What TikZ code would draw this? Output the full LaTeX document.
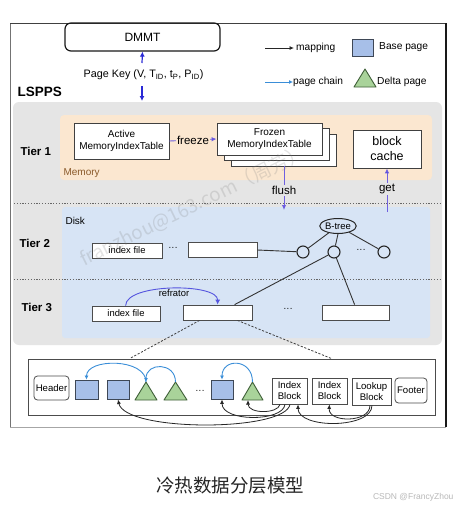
\documentclass[tikz,border=0pt]{standalone}
\usepackage{fontspec}
\setmainfont{Liberation Sans}
\newfontfamily\cjk{Noto Sans CJK SC}
\usetikzlibrary{arrows.meta,calc,shapes.geometric}
\definecolor{regiongray}{HTML}{E5E5E5}
\definecolor{memorange}{HTML}{FBE7D0}
\definecolor{diskblue}{HTML}{D7E4F5}
\definecolor{basefill}{HTML}{A7BFE8}
\definecolor{baseedge}{HTML}{3E4756}
\definecolor{trifill}{HTML}{A9D39A}
\definecolor{triedge}{HTML}{3F5F38}
\definecolor{keyblue}{HTML}{2A2AD6}
\definecolor{flowpurple}{HTML}{7060E0}
\definecolor{chainblue}{HTML}{3A8ED8}
\definecolor{membrown}{HTML}{8A5A2A}
\tikzset{
  fs/.style={font=\fontsize{#1}{#1}\selectfont},
  fsl/.style 2 args={font=\fontsize{#1}{#2}\selectfont},
  tierlabel/.style={anchor=west, font=\bfseries\fontsize{11.5}{12}\selectfont},
  membox/.style={draw=black!75, fill=white, line width=0.8, inner sep=0, align=center, fsl={10}{12}},
  filebox/.style={draw=black!70, fill=white, line width=0.8, inner sep=0, minimum height=15, fs=9.4},
  basepage/.style={draw=baseedge, fill=basefill, line width=0.9, inner sep=0, minimum height=19},
  blockbox/.style={draw=black!70, fill=white, line width=0.8, inner sep=0, align=center, fsl={9.6}{11}},
  tri/.style={draw=triedge, fill=trifill, line width=0.9, line join=round},
  tnode/.style={circle, draw=black!85, line width=1.1, minimum size=12, inner sep=0},
  treeline/.style={draw=black!80, line width=0.9},
  keyarrow/.style={draw=keyblue, line width=1.2, -{Latex[length=5pt,width=5pt]}},
  flowarrow/.style={draw=flowpurple, line width=0.9, -{Latex[length=5pt,width=4.5pt,fill=keyblue]}},
  flowlabel/.style={inner sep=1, fs=11.5},
  chain/.style={draw=chainblue, line width=0.9, -{Latex[length=4pt,width=4pt]}},
  mapping/.style={draw=black!85, line width=0.8, -{Latex[length=4.5pt,width=4pt]}},
  legendtext/.style={anchor=west, inner sep=1, fs=10.2},
  dotsep/.style={draw=black!60, line width=0.9, dash pattern=on 1.2pt off 1.6pt},
  fanout/.style={draw=black!75, line width=0.8, dash pattern=on 2.2pt off 1.6pt},
}
\begin{document}
\begin{tikzpicture}[x=1pt,y=-1pt, fs=9.5]
\useasboundingbox (0,0) rectangle (460,509);
\fill[white] (0,0) rectangle (460,509);

% outer frame
\draw[black!35, line width=0.4] (10,427) -- (446,427);
\draw[black!55, line width=0.7] (10,427) -- (10,23);
\draw[black!75, line width=0.8] (10,23) -- (446,23);
\draw[black!90, line width=1.7] (446,23) -- (446,427);

% regions
\fill[regiongray, rounded corners=6] (13,102) rectangle (442,345);
\fill[memorange, rounded corners=4] (60,115) rectangle (432,180);
\fill[diskblue, rounded corners=3] (62,207) rectangle (430,338);
\draw[dotsep] (14,203) -- (441,203);
\draw[dotsep] (14,279) -- (441,279);

% top part
\node[draw=black!90, rounded corners=6, line width=1.2, minimum width=155, minimum height=28, inner sep=0, fs=12] (dmmt) at (142.5,37) {DMMT};
\node[fs=10.8] (pk) at (143.5,75) {Page Key (V, T\textsubscript{ID}, t\textsubscript{P}, P\textsubscript{ID})};
\coordinate (pktop) at (142,63);
\coordinate (pkb1) at (142,86);
\coordinate (pkb2) at (142,101);
\draw[keyarrow] (pktop) -- (dmmt.south);
\draw[keyarrow] (pkb1) -- (pkb2);

\node[anchor=west, font=\bfseries\fontsize{13.5}{14}\selectfont] (lspps) at (14,92) {LSPPS};

% legend
\coordinate (lm1) at (265,48);
\coordinate (lm2) at (294,48);
\draw[mapping] (lm1) -- (lm2);
\node[legendtext] (lmt) at (295,48) {mapping};
\node[basepage, minimum width=21, minimum height=17] (lbp) at (362.5,47.5) {};
\node[legendtext] (lbpt) at (378,47.5) {Base page};
\coordinate (lc1) at (265,82);
\coordinate (lc2) at (293,82);
\draw[chain] (lc1) -- (lc2);
\node[legendtext] (lct) at (292,82) {page chain};
\draw[tri] (354,87) -- (365,69) -- (376,87) -- cycle;
\node[legendtext] (ldt) at (376,82) {Delta page};

% Tier 1
\node[tierlabel] (t1lab) at (17,151) {Tier 1};
\node[anchor=west, text=membrown, fs=10] (memlab) at (60,173) {Memory};
\node[membox, minimum width=95, minimum height=36] (act) at (121.5,141) {Active\\MemoryIndexTable};
\node[membox, minimum width=105, minimum height=32] (fz3) at (283.5,150) {};
\node[membox, minimum width=105, minimum height=32] (fz2) at (276.5,144.5) {};
\node[membox, minimum width=105, minimum height=32] (fz1) at (269.5,139) {Frozen\\MemoryIndexTable};
\draw[flowarrow] (act.east) -- node[flowlabel, fill=memorange] (frz) {freeze} (fz1.west);
\node[membox, minimum width=68, minimum height=38, fsl={12.5}{15}] (bc) at (387,149) {block\\cache};
\coordinate (flushend) at (284,210);
\draw[flowarrow] (fz3.south -| flushend) -- node[flowlabel, fill=regiongray, pos=0.55] (flt) {flush} (flushend);
\coordinate (getstart) at (387,212);
\draw[flowarrow] (getstart) -- node[flowlabel, fill=regiongray, pos=0.52] (gtt) {get} (bc.south);

% Tier 2
\node[tierlabel] (t2lab) at (16,243) {Tier 2};
\node[anchor=west, fs=10] (disklab) at (62,221) {Disk};
\node[filebox, minimum width=70] (i2) at (127,250.5) {index file};
\node[fs=9.5] (dots2) at (173,249) {···};
\node[filebox, minimum width=69] (b22) at (222.5,250) {};
\node[ellipse, draw=black!85, line width=1, minimum width=36, minimum height=15, inner sep=0, fs=9.5] (bt) at (338,226) {B-tree};
\node[tnode] (c1) at (303,252) {};
\node[tnode] (c2) at (334,252) {};
\node[tnode] (c3) at (384,252) {};
\node[fs=9.5] (dotsc) at (361,251) {···};
\draw[treeline] (bt) -- (c1);
\draw[treeline] (bt.south) -- (c2);
\draw[treeline] (bt) -- (c3);
\draw[treeline] (b22.east) -- (c1);

% Tier 3
\node[tierlabel] (t3lab) at (18,307) {Tier 3};
\node[filebox, minimum width=68] (i3) at (126,313.5) {index file};
\node[filebox, minimum width=69] (b32) at (217.5,312.5) {};
\node[fs=9.5] (dots3) at (288,310) {···};
\node[filebox, minimum width=67] (b33) at (355.5,312.5) {};
\draw[treeline] (c2) -- ($(b32.north west)+(52,0)$);
\draw[treeline] (c2) -- ($(b33.north west)+(33,0)$);
\draw[draw=keyblue!80, line width=0.9, -{Latex[length=5pt,width=5pt]}] ($(i3.north west)+(34,0)$) .. controls (126,283) and (218,283) .. ($(b32.north west)+(35,0)$);
\node[fs=9.4] (reflab) at (174,293) {refrator};

% fan-out to file layout
\node[draw=black!70, line width=0.8, minimum width=407, minimum height=56, inner sep=0] (file) at (231.5,387) {};
\draw[fanout] ($(b32.south west)+(17,0)$) -- ($(file.north west)+(102,0)$);
\draw[fanout] ($(b32.south east)+(-15,0)$) -- ($(file.north west)+(304,0)$);

% file content
\node[blockbox, rounded corners=3.5, minimum width=35, minimum height=24] (hdr) at (51.5,388) {Header};
\node[basepage, minimum width=23] (bp1) at (86.5,389.5) {};
\node[basepage, minimum width=22] (bp2) at (118,389.5) {};
\node[basepage, minimum width=22] (bp3) at (222,389.5) {};
\coordinate (t1top) at (146,382);
\coordinate (t2top) at (175.5,382);
\coordinate (t3top) at (252.5,382);
\coordinate (t3bot) at (248,400);
\draw[tri] (135,400) -- (t1top) -- (157,400) -- cycle;
\draw[tri] (164,400) -- (t2top) -- (187,400) -- cycle;
\draw[tri] (242,400) -- (t3top) -- (263,400) -- cycle;
\node[fs=9.5] (dotsf) at (200,392) {···};
\node[blockbox, minimum width=35, minimum height=26] (ib1) at (289.5,391) {Index\\Block};
\node[blockbox, minimum width=35, minimum height=26] (ib2) at (329.5,391) {Index\\Block};
\node[blockbox, minimum width=39, minimum height=27] (lk) at (371.5,391.5) {Lookup\\Block};
\node[blockbox, rounded corners=3.5, minimum width=32, minimum height=25] (ftr) at (411,390.5) {Footer};

% page chains
\draw[chain] (t1top) .. controls (146,358) and (86.5,358) .. (bp1.north);
\draw[chain] (t2top) .. controls (175.5,362) and (146,362) .. (t1top);
\draw[chain] (t3top) .. controls (252.5,358) and (222,358) .. (bp3.north);

% mappings
\draw[mapping] ($(ib1.south)+(0.5,0)$) .. controls (285,432) and (125,432) .. (bp2.south);
\draw[mapping] ($(ib1.south)+(-4.5,0)$) .. controls (283,422) and (222,422) .. (bp3.south);
\draw[mapping] ($(ib1.south)+(-9.5,0)$) .. controls (278,414) and (248,414) .. (t3bot);
\draw[mapping] ($(lk.south)+(0.5,0)$) .. controls (372,429) and (298,429) .. ($(ib1.south)+(8.5,0)$);
\draw[mapping] ($(lk.south)+(-1.5,0)$) .. controls (370,423) and (328,423) .. (ib2.south);

% watermarks
\node[rotate=26, text=gray, opacity=0.22, font=\cjk\fontsize{19}{19}\selectfont] (wm) at (193,206) {franzhou@163.com（周芳）};
\node[font=\cjk\fontsize{18.5}{20}\selectfont, text=black!85] (cap) at (230,486) {冷热数据分层模型};
\node[anchor=east, text=gray!55, fs=8.5] (csdn) at (457,497) {CSDN @FrancyZhou};
\end{tikzpicture}
\end{document}
